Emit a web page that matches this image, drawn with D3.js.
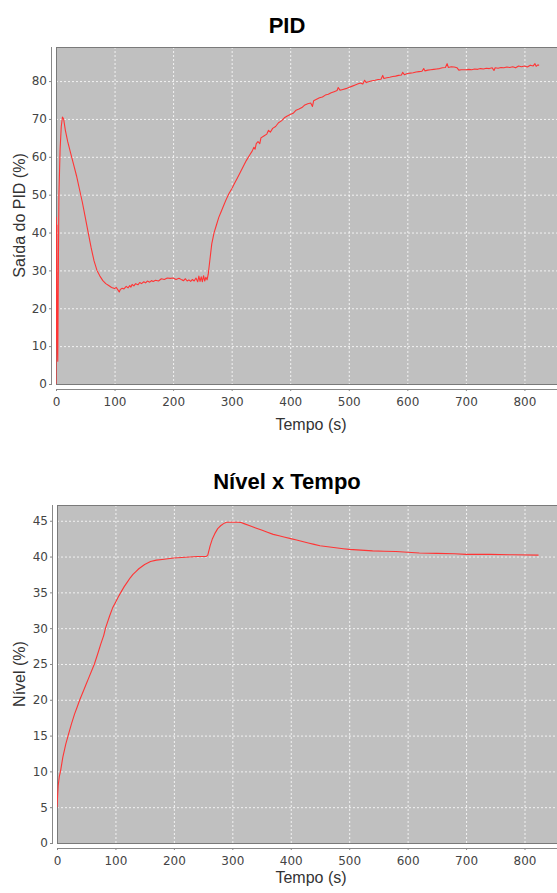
<!DOCTYPE html>
<html>
<head>
<meta charset="utf-8">
<script src="https://cdn.jsdelivr.net/npm/d3@7"></script>
<style>
  body { margin: 0; background: #fff; overflow: hidden; }
  svg { display: block; }
  .tick-label { font-family: "DejaVu Sans", sans-serif; font-size: 12px; fill: #444; }
  .axis-title { font-family: "Liberation Sans", Arial, sans-serif; font-size: 16px; fill: #333; }
  .chart-title { font-family: "Liberation Sans", Arial, sans-serif; font-size: 22px; font-weight: bold; fill: #000; }
</style>
</head>
<body>
<svg id="chart" width="557" height="893"></svg>
<script>
// tick labels
const timeTicks = [0, 100, 200, 300, 400, 500, 600, 700, 800];
const pidTicks = [0, 10, 20, 30, 40, 50, 60, 70, 80];
const levelTicks = [0, 5, 10, 15, 20, 25, 30, 35, 40, 45];

// PID output (%) vs time (s)
const pidSeries = [
  [0, 0], [0.5, 44], [1, 20], [1.5, 42], [2, 12], [3, 6], [4, 30], [5, 50], [7, 62], [9, 68],
  [11, 70.5], [13, 70], [16, 67], [20, 64], [25, 61], [30, 58], [35, 55], [40, 51.5], [45, 48],
  [50, 44], [55, 40], [60, 36], [65, 32.5], [70, 30], [75, 28.5], [80, 27.3], [85, 26.5],
  [90, 26], [95, 25.5], [100, 25.2], [103, 25.5], [106, 24.8], [108, 24.3], [110, 25],
  [113, 25.3], [116, 25.1], [120, 25.8], [123, 25.4], [126, 26], [128, 25.6], [130, 26.3],
  [133, 25.9], [136, 26.5], [140, 26.2], [143, 26.8], [146, 26.5], [150, 27], [153, 26.7],
  [156, 27.2], [160, 26.9], [163, 27.3], [166, 27.1], [170, 27.4], [175, 27.2], [180, 27.8],
  [185, 27.6], [190, 28], [195, 27.9], [200, 28], [205, 27.6], [210, 27.9], [215, 27.5],
  [218, 27.3], [221, 27.8], [224, 27.2], [227, 27.5], [230, 27.1], [233, 27.6], [236, 27.2],
  [239, 28], [242, 27], [244, 28.5], [246, 27.1], [248, 28.3], [250, 27], [252, 28.6],
  [254, 27.2], [256, 28.2], [258, 27.5], [260, 29], [263, 33], [266, 37], [270, 40], [274, 42],
  [278, 44], [282, 45.5], [286, 47], [290, 48.5], [295, 50.2], [300, 51.5], [305, 53],
  [310, 54.5], [315, 56], [320, 57.5], [325, 59], [330, 60.3], [335, 61.5], [338, 62.5],
  [340, 62], [342, 63.5], [345, 64], [348, 63.5], [350, 65], [355, 65.5], [360, 66], [363, 67],
  [366, 66.5], [370, 67.5], [375, 68], [380, 69], [385, 69.5], [390, 70.3], [395, 70.8],
  [400, 71.2], [405, 71.5], [410, 72.3], [415, 72.6], [420, 73], [425, 73.7], [430, 74],
  [435, 74.2], [438, 73.3], [440, 74.8], [445, 75.2], [450, 75.6], [455, 75.8], [460, 76.3],
  [465, 76.5], [470, 76.9], [475, 77.2], [480, 77.5], [482, 78.3], [485, 77.6], [490, 77.8],
  [495, 78], [500, 78.3], [505, 78.6], [510, 78.9], [515, 79.2], [520, 79.5], [524, 79.2],
  [527, 80.2], [530, 79.6], [535, 79.9], [540, 80.1], [545, 80.2], [550, 80.4], [555, 80.5],
  [558, 81.5], [560, 80.7], [565, 80.9], [570, 81], [575, 81.2], [580, 81.3], [585, 81.5],
  [590, 81.6], [592, 82.3], [595, 81.7], [600, 82], [605, 82.1], [610, 82.2], [615, 82.4],
  [620, 82.5], [625, 82.6], [628, 83.3], [630, 82.7], [635, 82.9], [640, 83], [645, 83.1],
  [650, 83.2], [655, 83.3], [660, 83.5], [665, 83.6], [668, 84.6], [670, 83.6], [675, 83.8],
  [680, 83.7], [685, 83.5], [688, 82.9], [692, 83], [700, 83], [705, 83.1], [710, 83],
  [715, 83.2], [720, 83.1], [725, 83.3], [730, 83.2], [735, 83.4], [740, 83.3], [745, 83.5],
  [748, 82.8], [750, 83.5], [755, 83.4], [760, 83.6], [765, 83.5], [770, 83.7], [775, 83.6],
  [780, 83.8], [785, 83.5], [790, 84], [795, 83.8], [800, 84], [805, 83.7], [810, 84.2],
  [815, 84], [818, 84.6], [820, 83.9], [823, 84.3], [825, 84.1]
];

// level (%) vs time (s)
const levelSeries = [
  [0, 5], [1, 6.5], [2, 8], [4, 9.3], [6, 10], [10, 12], [15, 13.8], [19, 15], [25, 16.7],
  [30, 18], [35, 19.1], [39, 20], [45, 21.2], [50, 22.2], [55, 23.2], [60, 24.2], [64, 25],
  [70, 26.5], [75, 27.8], [80, 29], [83, 30], [90, 31.7], [95, 32.8], [100, 33.6], [105, 34.4],
  [110, 35.1], [115, 35.8], [120, 36.4], [125, 37], [130, 37.5], [135, 37.9], [140, 38.3],
  [150, 38.9], [160, 39.3], [170, 39.5], [180, 39.6], [190, 39.7], [200, 39.8], [220, 39.9],
  [240, 40], [255, 40], [258, 40.2], [262, 41.5], [266, 42.5], [270, 43.2], [275, 43.9],
  [280, 44.3], [285, 44.6], [290, 44.8], [300, 44.8], [310, 44.8], [315, 44.75], [320, 44.6],
  [330, 44.3], [340, 44], [350, 43.7], [360, 43.4], [370, 43.1], [380, 42.9], [390, 42.7],
  [400, 42.5], [410, 42.3], [420, 42.1], [430, 41.9], [440, 41.7], [450, 41.5], [460, 41.4],
  [470, 41.3], [480, 41.2], [490, 41.1], [500, 41], [520, 40.9], [540, 40.8], [560, 40.75],
  [580, 40.7], [600, 40.6], [620, 40.5], [650, 40.45], [680, 40.4], [700, 40.3], [740, 40.3],
  [780, 40.25], [824, 40.2]
];

const svg = d3.select("#chart");

function drawChart(opts) {
  const x = d3.scaleLinear().domain([0, 871]).range([opts.left, opts.right]);
  const y = d3.scaleLinear().domain([0, opts.yMax]).range([opts.bottom, opts.top]);
  const g = svg.append("g");

  // title
  g.append("text")
    .attr("class", "chart-title")
    .attr("x", 287)
    .attr("y", opts.titleY)
    .attr("text-anchor", "middle")
    .text(opts.title);

  // plot background
  g.append("rect")
    .attr("x", opts.left)
    .attr("y", opts.top)
    .attr("width", opts.right - opts.left)
    .attr("height", opts.bottom - opts.top)
    .attr("fill", "#c0c0c0");

  // gridlines
  g.selectAll(".vgrid")
    .data(timeTicks.slice(1))
    .enter()
    .append("line")
    .attr("x1", (d) => x(d) + 0.5)
    .attr("x2", (d) => x(d) + 0.5)
    .attr("y1", opts.top)
    .attr("y2", opts.bottom)
    .attr("stroke", "#fff")
    .attr("stroke-width", 0.8)
    .attr("stroke-dasharray", "2,2");

  g.selectAll(".hgrid")
    .data(opts.yTicks.slice(1))
    .enter()
    .append("line")
    .attr("x1", opts.left)
    .attr("x2", opts.right)
    .attr("y1", (d) => y(d) + 0.5)
    .attr("y2", (d) => y(d) + 0.5)
    .attr("stroke", "#fff")
    .attr("stroke-width", 0.8)
    .attr("stroke-dasharray", "2,2");

  // plot outline
  g.append("rect")
    .attr("x", opts.left + 0.5)
    .attr("y", opts.top + 0.5)
    .attr("width", opts.right - opts.left)
    .attr("height", opts.bottom - opts.top)
    .attr("fill", "none")
    .attr("stroke", "#7a7a7a");

  // clip for the series
  const clipId = "clip-" + opts.id;
  svg.append("clipPath")
    .attr("id", clipId)
    .append("rect")
    .attr("x", opts.left)
    .attr("y", opts.top)
    .attr("width", opts.right - opts.left)
    .attr("height", opts.bottom - opts.top);

  const line = d3.line()
    .x((d) => x(d[0]))
    .y((d) => y(d[1]));

  g.append("path")
    .datum(opts.data)
    .attr("clip-path", "url(#" + clipId + ")")
    .attr("fill", "none")
    .attr("stroke", "#ff3535")
    .attr("stroke-width", 1.1)
    .attr("stroke-linejoin", "round")
    .attr("d", line);

  // x axis (offset below plot)
  const xAxis = d3.axisBottom(x)
    .tickValues(timeTicks)
    .tickSize(2)
    .tickPadding(3)
    .tickFormat(d3.format("d"));
  const gx = g.append("g")
    .attr("transform", "translate(0," + (opts.bottom + 5) + ")")
    .call(xAxis);
  gx.select(".domain").attr("stroke", "#888").attr("d", "M" + opts.left + ",0.5H" + opts.right);
  gx.selectAll(".tick line").attr("stroke", "#888");
  gx.selectAll(".tick text")
    .attr("class", "tick-label")
    .attr("font-family", null)
    .attr("font-size", null)
    .attr("fill", null)
    .attr("dy", null)
    .attr("y", 17);

  // y axis (offset left of plot)
  const yAxis = d3.axisLeft(y)
    .tickValues(opts.yTicks)
    .tickSize(3)
    .tickPadding(3)
    .tickFormat(d3.format("d"));
  const gy = g.append("g")
    .attr("transform", "translate(" + (opts.left - 4) + ",0)")
    .call(yAxis);
  gy.select(".domain").attr("stroke", "#888").attr("d", "M-0.5," + opts.top + "V" + opts.bottom);
  gy.selectAll(".tick line").attr("stroke", "#888");
  gy.selectAll(".tick text")
    .attr("class", "tick-label")
    .attr("font-family", null)
    .attr("font-size", null)
    .attr("fill", null)
    .attr("x", -5);

  // axis titles
  g.append("text")
    .attr("class", "axis-title")
    .attr("x", 311)
    .attr("y", opts.xTitleY)
    .attr("text-anchor", "middle")
    .text("Tempo (s)");

  g.append("text")
    .attr("class", "axis-title")
    .attr("transform", "translate(25," + (opts.top + opts.bottom) / 2 + ") rotate(-90)")
    .attr("text-anchor", "middle")
    .text(opts.yTitle);
}

drawChart({
  id: "pid",
  title: "PID",
  titleY: 33,
  top: 47,
  bottom: 384,
  left: 56,
  right: 566,
  yMax: 89,
  yTicks: pidTicks,
  yTitle: "Saída do PID (%)",
  xTitleY: 430,
  data: pidSeries
});

drawChart({
  id: "level",
  title: "Nível x Tempo",
  titleY: 489,
  top: 505,
  bottom: 843,
  left: 57,
  right: 566,
  yMax: 47.2,
  yTicks: levelTicks,
  yTitle: "Nível (%)",
  xTitleY: 883,
  data: levelSeries
});
</script>
</body>
</html>
